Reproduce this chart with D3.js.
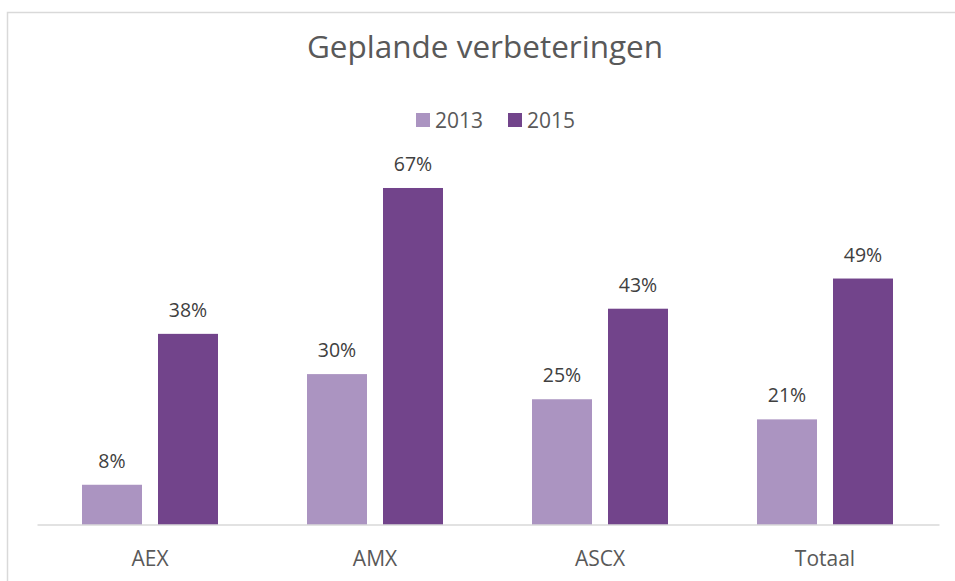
<!DOCTYPE html>
<html>
<head>
<meta charset="utf-8">
<script src="https://cdn.jsdelivr.net/npm/d3@7"></script>
<style>
  body { margin: 0; background: #fff; }
  text { font-family: "Open Sans", sans-serif; }
</style>
</head>
<body>
<div id="chart"></div>
<script>
// chart data
var categories = ["AEX", "AMX", "ASCX", "Totaal"];
var seriesNames = ["2013", "2015"];
var values2013 = [8, 30, 25, 21];
var values2015 = [38, 67, 43, 49];
var colors = ["#ab94c1", "#72448b"];

var svgWidth = 955;
var svgHeight = 581;

var svg = d3.select("#chart").append("svg")
    .attr("width", svgWidth)
    .attr("height", svgHeight);

// chart frame (runs off the right and bottom of the picture)
svg.append("rect")
    .attr("x", 7.5)
    .attr("y", 12.5)
    .attr("width", 1000)
    .attr("height", 600)
    .attr("fill", "#fff")
    .attr("stroke", "#d9d9d9")
    .attr("stroke-width", 1.5);

var margin = { left: 37.5, right: 17.5, top: 22, bottom: 56 };
var baseY = svgHeight - margin.bottom;

var xScale = d3.scaleBand()
    .domain(categories)
    .range([margin.left, svgWidth - margin.right])
    .paddingInner(0.3956)
    .paddingOuter(0.1978);

var xInner = d3.scaleBand()
    .domain(seriesNames)
    .range([0, xScale.bandwidth()])
    .paddingInner(0.2105);

var yScale = d3.scaleLinear()
    .domain([0, 100])
    .range([baseY, margin.top]);

var rows = categories.map(function(c, i) {
    return { cat: c, vals: [values2013[i], values2015[i]] };
});

// bars
var groups = svg.append("g").selectAll("g")
    .data(rows)
    .enter()
    .append("g")
    .attr("transform", d => `translate(${xScale(d.cat)}, 0)`);

groups.selectAll("rect")
    .data(d => d.vals.map((v, j) => ({ s: seriesNames[j], v: v, j: j })))
    .enter()
    .append("rect")
    .attr("x", d => xInner(d.s))
    .attr("y", d => yScale(d.v))
    .attr("width", xInner.bandwidth())
    .attr("height", d => baseY - yScale(d.v))
    .attr("fill", d => colors[d.j]);

// data labels
groups.selectAll("text")
    .data(d => d.vals.map((v, j) => ({ s: seriesNames[j], v: v })))
    .enter()
    .append("text")
    .attr("x", d => xInner(d.s) + xInner.bandwidth() / 2)
    .attr("y", d => yScale(d.v) - 17)
    .attr("text-anchor", "middle")
    .attr("font-size", 19.5)
    .attr("fill", "#404040")
    .text(d => d.v + "%");

// x axis
var xAxis = d3.axisBottom(xScale).tickSize(0).tickPadding(26);
var axisG = svg.append("g")
    .attr("transform", `translate(0, ${baseY})`)
    .call(xAxis);
axisG.select(".domain")
    .attr("stroke", "#d9d9d9")
    .attr("stroke-width", 1.5)
    .attr("d", `M${margin.left},0H${svgWidth - margin.right + 2}`);
axisG.selectAll("text")
    .attr("font-size", 21)
    .attr("font-family", "Open Sans, sans-serif")
    .attr("fill", "#595959");

// title
svg.append("text")
    .attr("x", 485)
    .attr("y", 58)
    .attr("text-anchor", "middle")
    .attr("font-size", 31.5)
    .attr("fill", "#595959")
    .text("Geplande verbeteringen");

// legend
var legend = svg.append("g")
    .attr("transform", "translate(416, 113)");
var legendX = [0, 92];
seriesNames.forEach(function(name, i) {
    legend.append("rect")
        .attr("x", legendX[i])
        .attr("y", 0)
        .attr("width", 14)
        .attr("height", 14)
        .attr("fill", colors[i]);
    legend.append("text")
        .attr("x", legendX[i] + 19)
        .attr("y", 15)
        .attr("font-size", 21)
        .attr("fill", "#595959")
        .text(name);
});
</script>
</body>
</html>
